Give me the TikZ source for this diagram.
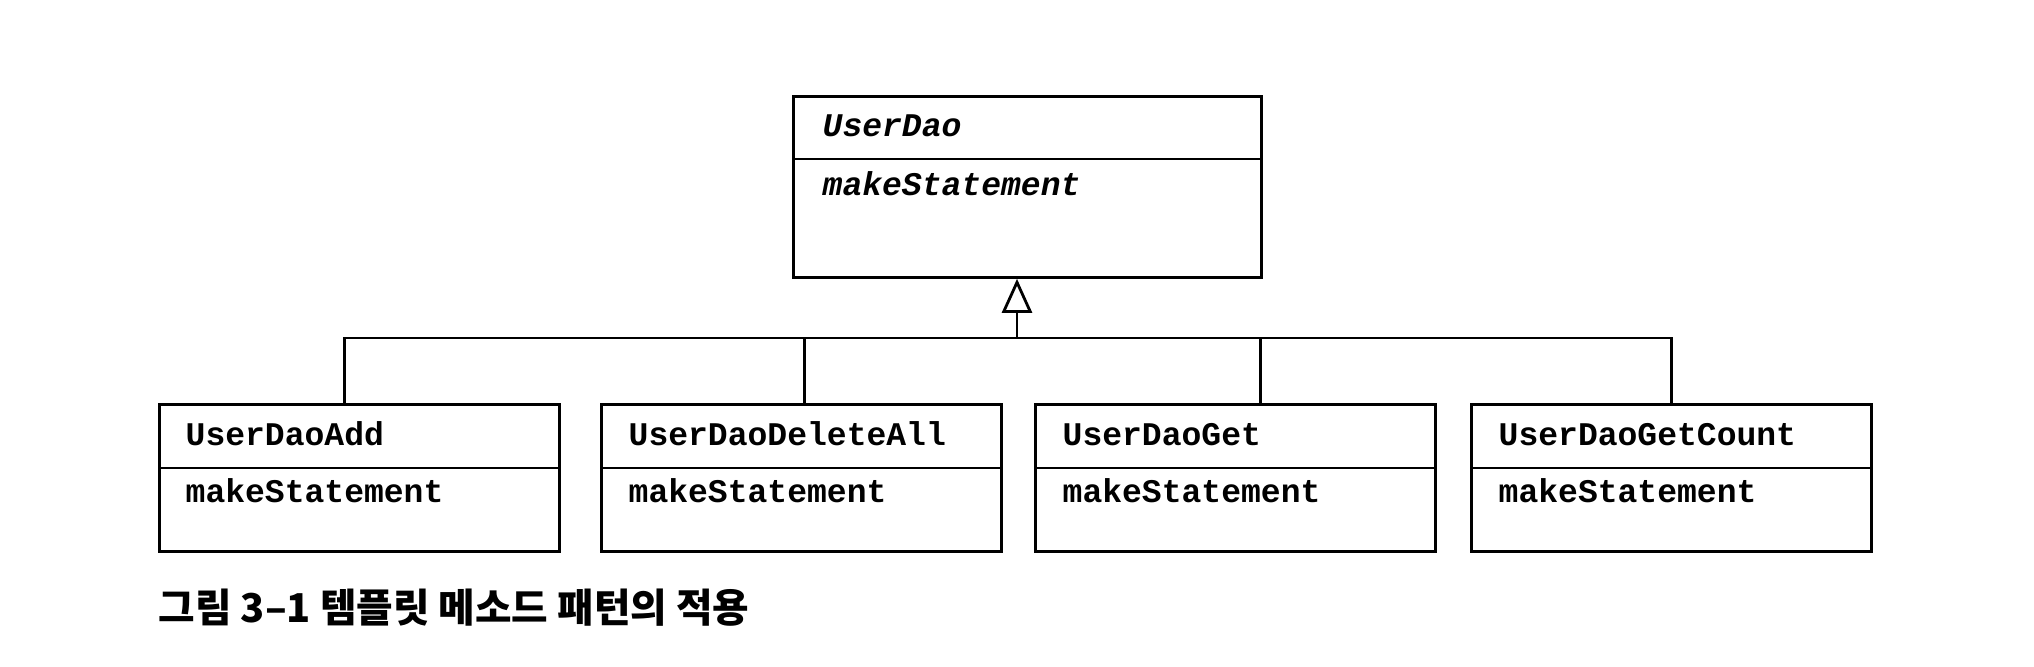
\documentclass[tikz,border=0pt]{standalone}
\usepackage{fontspec}
\setmonofont{Liberation Mono}
\newfontfamily\kofont{Noto Sans CJK KR}
\usetikzlibrary{arrows.meta}

\tikzset{
  classbox/.style={draw, rectangle, line width=0.8pt, anchor=north west,
    minimum width=4cm, minimum height=1.47cm, inner sep=0pt},
  classtxt/.style={anchor=base west, inner sep=0pt,
    font=\ttfamily\bfseries\fontsize{9.4}{11}\selectfont},
  abstxt/.style={classtxt, font=\ttfamily\bfseries\itshape\fontsize{9.4}{11}\selectfont},
  conn/.style={line width=0.8pt},
  inherit/.style={conn, -{Triangle[open, length=0.34cm, width=0.30cm]}}
}

\begin{document}
\begin{tikzpicture}

        \fill[white] (0,0) rectangle (20.34,-6.66);
        \useasboundingbox (0,0) rectangle (20.34,-6.66);

        % abstract class
        \node[classbox, minimum width=4.68cm, minimum height=1.81cm] (dao) at (7.92,-0.95) {};
        \draw[conn] ([yshift=-0.64cm]dao.north west) -- ([yshift=-0.64cm]dao.north east);
        \node[abstxt] (daoname) at (8.22,-1.36) {UserDao};
        \node[abstxt] (daomth)  at (8.22,-1.95) {makeStatement};

        % sub classes
        \begin{scope}[every node/.style={classbox}]
          \node (add)   at (1.58,-4.03)  {};
          \node (del)   at (6.00,-4.03)  {};
          \node (get)   at (10.34,-4.03) {};
          \node (count) at (14.70,-4.03) {};
        \end{scope}

        \draw[conn] ([yshift=-0.65cm]add.north west)   -- ([yshift=-0.65cm]add.north east);
        \draw[conn] ([yshift=-0.65cm]del.north west)   -- ([yshift=-0.65cm]del.north east);
        \draw[conn] ([yshift=-0.65cm]get.north west)   -- ([yshift=-0.65cm]get.north east);
        \draw[conn] ([yshift=-0.65cm]count.north west) -- ([yshift=-0.65cm]count.north east);

        \begin{scope}[every node/.style={classtxt}]
          \node (addname)   at (1.85,-4.45)  {UserDaoAdd};
          \node (addmth)    at (1.85,-5.02)  {makeStatement};
          \node (delname)   at (6.28,-4.45)  {UserDaoDeleteAll};
          \node (delmth)    at (6.28,-5.02)  {makeStatement};
          \node (getname)   at (10.62,-4.45) {UserDaoGet};
          \node (getmth)    at (10.62,-5.02) {makeStatement};
          \node (countname) at (14.98,-4.45) {UserDaoGetCount};
          \node (countmth)  at (14.98,-5.02) {makeStatement};
        \end{scope}

        % inheritance
        \coordinate (bus) at (10.17,-3.38);
        \draw[inherit] (bus) -- (bus |- dao.south);
        \draw[conn] ([xshift=-0.15cm]add.north) -- ++(0,0.65) -| (count.north);
        \draw[conn] ([xshift=0.03cm]del.north) -- ++(0,0.65);
        \draw[conn] ([xshift=0.25cm]get.north) -- ++(0,0.65);

        \node[anchor=base west, inner sep=0pt, font=\kofont\bfseries\fontsize{11.3}{13}\selectfont]
          (caption) at (1.58,-6.22) {그림 3–1 템플릿 메소드 패턴의 적용};

      \end{tikzpicture}
\end{document}
